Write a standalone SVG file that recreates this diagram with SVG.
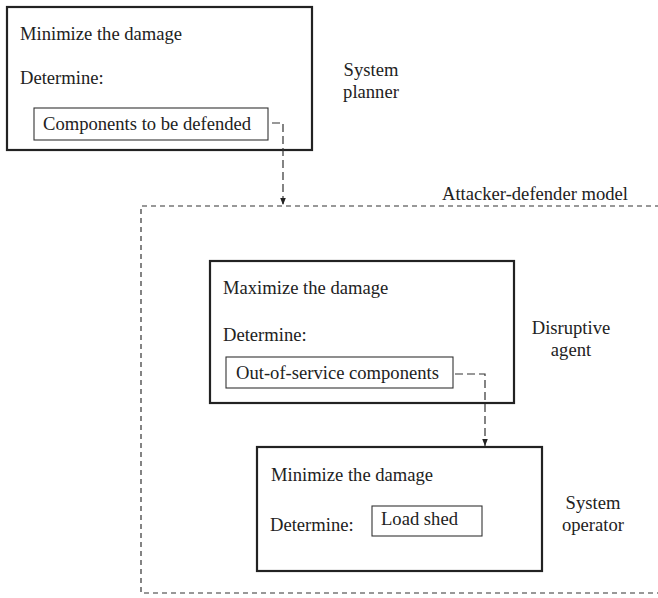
<svg xmlns="http://www.w3.org/2000/svg" width="658" height="598" viewBox="0 0 658 598">
<style>
.t { font-family: "Liberation Serif", "Times New Roman", serif; font-size: 18.6px; fill: #222; }
.outer { fill: none; stroke: #222; stroke-width: 2.2; }
.inner { fill: none; stroke: #333; stroke-width: 1.1; }
.frame { fill: none; stroke: #333; stroke-width: 1.2; stroke-dasharray: 5 4; }
.conn { fill: none; stroke: #333; stroke-width: 1.2; stroke-dasharray: 8 4; }
.mid { text-anchor: middle; }
</style>
<defs>
<marker id="arr" viewBox="0 0 10 10" refX="10" refY="5" markerWidth="9" markerHeight="7" markerUnits="userSpaceOnUse" orient="auto">
<path d="M0,1 L10,5 L0,9 z" fill="#222"/>
</marker>
</defs>
<rect width="658" height="598" fill="#fff"/>

<g id="attacker-defender-model">
<path class="frame" d="M660,206 H141 V593 H660"/>
<text class="t" x="442" y="200">Attacker-defender model</text>
</g>

<g id="system-planner">
<rect class="outer" x="7" y="7" width="305" height="143"/>
<text class="t" x="20" y="40">Minimize the damage</text>
<text class="t" x="20" y="84">Determine:</text>
<rect class="inner" x="34" y="108" width="234" height="32"/>
<text class="t" x="43" y="130">Components to be defended</text>
<text class="t mid" x="371" y="76">System</text>
<text class="t mid" x="371" y="98">planner</text>
</g>

<g id="disruptive-agent">
<rect class="outer" x="210" y="261" width="304" height="142"/>
<text class="t" x="223" y="294">Maximize the damage</text>
<text class="t" x="223" y="341">Determine:</text>
<rect class="inner" x="226" y="357" width="227" height="31"/>
<text class="t" x="236" y="379">Out-of-service components</text>
<text class="t mid" x="571" y="334">Disruptive</text>
<text class="t mid" x="571" y="356">agent</text>
</g>

<g id="system-operator">
<rect class="outer" x="257" y="447" width="285" height="124"/>
<text class="t" x="271" y="481">Minimize the damage</text>
<text class="t" x="270" y="531">Determine:</text>
<rect class="inner" x="372" y="506" width="110" height="30"/>
<text class="t" x="381" y="525">Load shed</text>
<text class="t mid" x="593" y="509">System</text>
<text class="t mid" x="593" y="531">operator</text>
</g>

<g id="connectors">
<path class="conn" d="M272,123 H283 V205" marker-end="url(#arr)"/>
<path class="conn" d="M455,374 H485 V446" marker-end="url(#arr)"/>
</g>
</svg>
